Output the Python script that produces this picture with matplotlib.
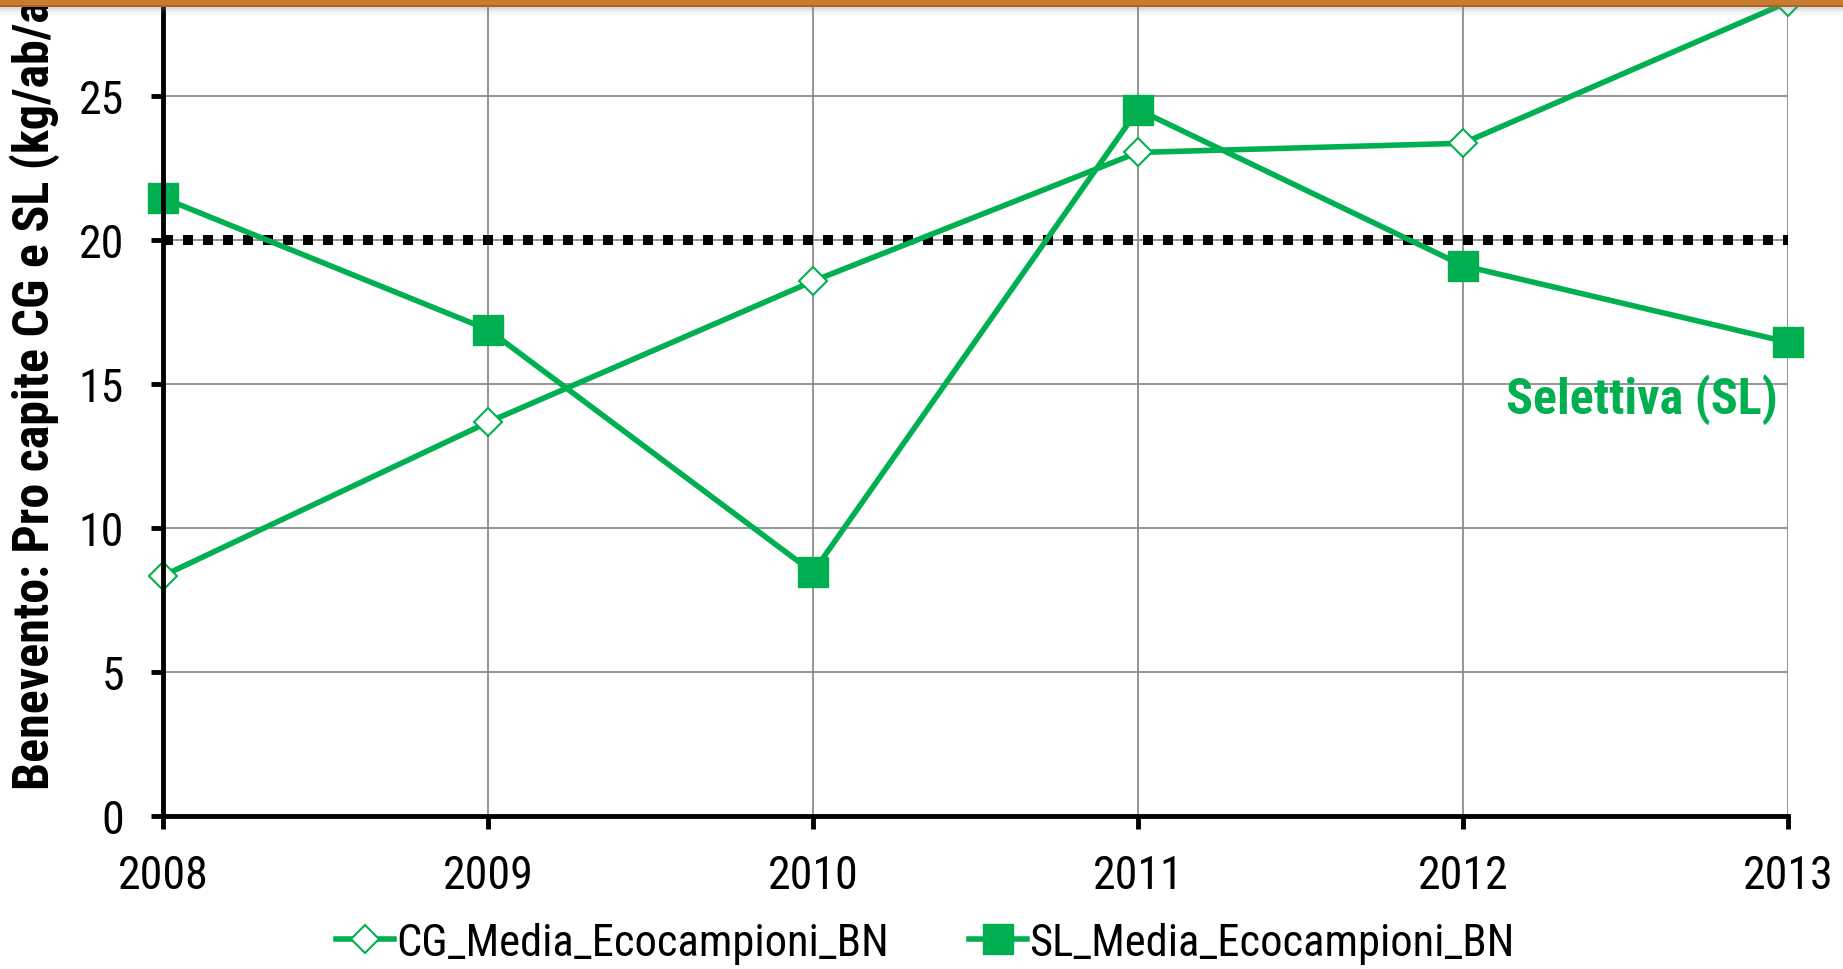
import matplotlib
matplotlib.use("Agg")
import matplotlib.pyplot as plt
from matplotlib import font_manager
from matplotlib.patches import Rectangle

# font: prefer an Arial Narrow look-alike, else regular Liberation Sans a bit smaller
names = set(f.name for f in font_manager.fontManager.ttflist)
narrow = [n for n in ['Liberation Sans Narrow', 'Arial Narrow', 'Roboto Condensed',
                      'Open Sans Condensed'] if n in names]
if narrow:
    FONT, k = narrow[0], 1.0
else:
    FONT, k = 'Liberation Sans', 0.89
plt.rcParams['font.family'] = [FONT, 'DejaVu Sans']

years = [2008, 2009, 2010, 2011, 2012, 2013]
cg_media = [8.34, 13.67, 18.57, 23.04, 23.36, 28.26]
sl_media = [21.46, 16.89, 8.46, 24.53, 19.11, 16.45]
target = [20, 20, 20, 20, 20, 20]
yticks = [0, 5, 10, 15, 20, 25]

GREEN = '#00B050'
W, H = 1843, 970

fig = plt.figure(figsize=(W / 100, H / 100), dpi=100)
ax = fig.add_axes([163 / W, (H - 817) / H, 1625 / W, 864 / H])

ax.plot(years, target, color='black', lw=7.2, ls=(0, (1, 1)),
        dash_capstyle='butt', zorder=3)
ax.plot(years, cg_media, color=GREEN, lw=4, marker='D', ms=14.5,
        mfc='white', mec=GREEN, mew=1.5, zorder=4, clip_on=False,
        label='CG_Media_Ecocampioni_BN')
ax.plot(years, sl_media, color=GREEN, lw=4, marker='s', ms=21,
        mfc=GREEN, mec=GREEN, zorder=5, clip_on=False,
        label='SL_Media_Ecocampioni_BN')

ax.set_xlim(2008, 2013)
ax.set_ylim(0, 30)
ax.set_xticks(years)
ax.set_yticks(yticks)
ax.grid(True, color='#8c8c8c', lw=1.3, zorder=0)
ax.set_axisbelow(True)
for s in ['top', 'right']:
    ax.spines[s].set_visible(False)
for s in ['left', 'bottom']:
    ax.spines[s].set_linewidth(3.5)
    ax.spines[s].set_color('black')
    ax.spines[s].set_zorder(6)
ax.tick_params(axis='y', direction='out', length=9, width=3.5,
               labelsize=33 * k + (2 if k < 1 else 0), pad=19)
ax.tick_params(axis='x', direction='out', length=9, width=3.5,
               labelsize=33 * k + (2 if k < 1 else 0), pad=18)

ax.text(2012.97, 14.5, 'Selettiva (SL)', color=GREEN, fontsize=36 * k,
        fontweight='bold', ha='right', va='center')

fig.text(35 / W, 1 - 790 / H, 'Benevento: Pro capite CG e SL (kg/ab/anno)',
         rotation=90, fontsize=36 * k, fontweight='bold', ha='center', va='bottom')

fig.legend(loc='center', bbox_to_anchor=(0.502, 1 - 944 / H), ncol=2,
           frameon=False, fontsize=32 * k, handlelength=1.3, handletextpad=0.05,
           columnspacing=1.8, borderaxespad=0)

# orange band across the top with a soft shadow
for i, a in enumerate([0.3, 0.18, 0.1, 0.05]):
    fig.patches.append(Rectangle((0, 1 - (8 + 2 * (i + 1)) / H), 1, 2 / H,
                                 transform=fig.transFigure, color='gray',
                                 alpha=a, lw=0))
fig.patches.append(Rectangle((0, 1 - 8 / H), 1, 8 / H, transform=fig.transFigure,
                             color='#C97B30', lw=0, zorder=10))
fig.patches.append(Rectangle((0, 1 - 8 / H), 1, 2 / H, transform=fig.transFigure,
                             color='#A9652A', lw=0, zorder=11))

fig.savefig('out.png', dpi=100)
